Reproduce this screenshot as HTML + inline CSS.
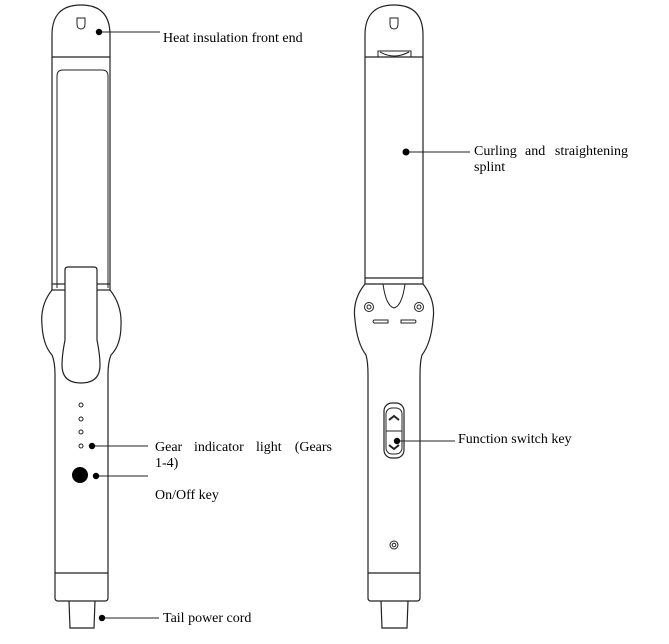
<!DOCTYPE html>
<html><head><meta charset="utf-8"><style>
html,body{margin:0;padding:0;background:#fff;}
svg{display:block;}
text{font-family:"Liberation Serif",serif;font-size:14px;fill:#000;}
</style></head><body>
<svg width="669" height="644" viewBox="0 0 669 644" xmlns="http://www.w3.org/2000/svg">
<g fill="none" stroke="#222" stroke-width="1.2">
<!-- LEFT DEVICE -->
<path d="M52,57 L52,35 Q52,5 81,5 Q110,5 110,35 L110,57 Z"/>
<path d="M77,18 h8 v6 q0,5 -4,5 q-4,0 -4,-5 Z" stroke-width="1"/>
<line x1="52" y1="57" x2="52" y2="290"/>
<line x1="110" y1="57" x2="110" y2="290"/>
<path d="M57,288 L57,76 Q57,70 63,70 L102,70 Q108,70 108,76 L108,288" stroke-width="1"/>
<line x1="52" y1="290" x2="65" y2="290"/><line x1="97" y1="290" x2="110" y2="290"/>
<line x1="52" y1="284" x2="65" y2="284"/><line x1="97" y1="284" x2="110" y2="284"/>
<path d="M52,290 Q40,305 42,325 Q43,345 52,355 Q55,362 55,375 L55,598 Q55,601 58,601 L105,601 Q108,601 108,598 L108,375 Q108,362 111,355 Q121,345 121,325 Q122,305 110,290"/>
<path d="M65,270 Q65,267 68,267 L94,267 Q97,267 97,270 L97,340 Q100,355 100,365 Q100,383 81,383 Q62,383 62,365 Q62,355 65,340 Z" fill="#fff"/>
<line x1="55" y1="573" x2="108" y2="573"/>
<path d="M69,601 L70,628 L94,628 L95,601"/>
<circle cx="81" cy="405" r="2" stroke-width="1"/>
<circle cx="81" cy="419" r="2" stroke-width="1"/>
<circle cx="81" cy="432" r="2" stroke-width="1"/>
<circle cx="81" cy="446" r="2" stroke-width="1"/>
<!-- RIGHT DEVICE -->
<path d="M365,57 L365,35 Q365,5 394,5 Q423,5 423,35 L423,57 Z"/>
<path d="M390,18 h8 v6 q0,5 -4,5 q-4,0 -4,-5 Z" stroke-width="1"/>
<path d="M378,57 L378,51 L411,51 L411,57 M380,52 Q394,60 409,52" stroke-width="1"/>
<line x1="365" y1="57" x2="365" y2="284"/>
<line x1="423" y1="57" x2="423" y2="284"/>
<line x1="365" y1="278" x2="423" y2="278"/>
<line x1="365" y1="284" x2="423" y2="284"/>
<path d="M365,284 Q352,300 355,320 Q357,343 366,355 Q368,362 368,375 L368,598 Q368,601 371,601 L417,601 Q420,601 420,598 L420,375 Q420,362 422,355 Q431,343 433,320 Q436,300 423,284"/>
<path d="M383,284 Q386,306 394,308 Q402,306 405,284" stroke-width="1"/>
<circle cx="369" cy="307" r="4.5" stroke-width="1"/><circle cx="369" cy="307" r="2" stroke-width="1"/>
<circle cx="419" cy="307" r="4.5" stroke-width="1"/><circle cx="419" cy="307" r="2" stroke-width="1"/>
<path d="M374,320 h14 v3 h-14 q-2,-1.5 0,-3 Z" stroke-width="1"/>
<path d="M401,320 h14 q2,1.5 0,3 h-14 Z" stroke-width="1"/>
<rect x="384" y="403" width="20" height="55" rx="8"/>
<rect x="386" y="408" width="16" height="46" rx="6" stroke-width="1"/>
<line x1="386" y1="431" x2="402" y2="431" stroke-width="1"/>
<path d="M389,420 L394,416 L399,420" stroke-width="2"/>
<path d="M389,445 L394,449 L399,445" stroke-width="2"/>
<circle cx="394" cy="545" r="4" stroke-width="1"/><circle cx="394" cy="545" r="1.8" stroke-width="1"/>
<line x1="368" y1="573" x2="420" y2="573"/>
<path d="M381,601 L382,628 L407,628 L408,601"/>
</g>
<g stroke="#222" stroke-width="1">
<line x1="99" y1="32" x2="160" y2="32"/>
<line x1="406" y1="152" x2="470" y2="152"/>
<line x1="92" y1="446" x2="148" y2="446"/>
<line x1="96" y1="476" x2="148" y2="476"/>
<line x1="102" y1="618" x2="159" y2="618"/>
<line x1="397" y1="441" x2="455" y2="441"/>
</g>
<g fill="#000">
<circle cx="99" cy="32" r="3.2"/>
<circle cx="406" cy="152" r="3.5"/>
<circle cx="92" cy="446" r="3.2"/>
<circle cx="80" cy="475" r="8"/>
<circle cx="96" cy="476" r="3.2"/>
<circle cx="102" cy="618" r="3.2"/>
<circle cx="397" cy="441" r="3.2"/>
</g>
<text x="163" y="42">Heat insulation front end</text>
<text x="474" y="155">Curling</text>
<text x="525" y="155">and</text>
<text x="628" y="155" text-anchor="end">straightening</text>
<text x="474" y="171">splint</text>
<text x="155" y="451">Gear</text>
<text x="194" y="451">indicator</text>
<text x="256" y="451">light</text>
<text x="332" y="451" text-anchor="end">(Gears</text>
<text x="155" y="467">1-4)</text>
<text x="155" y="499">On/Off key</text>
<text x="163" y="622">Tail power cord</text>
<text x="458" y="443">Function switch key</text>
</svg>
</body></html>
